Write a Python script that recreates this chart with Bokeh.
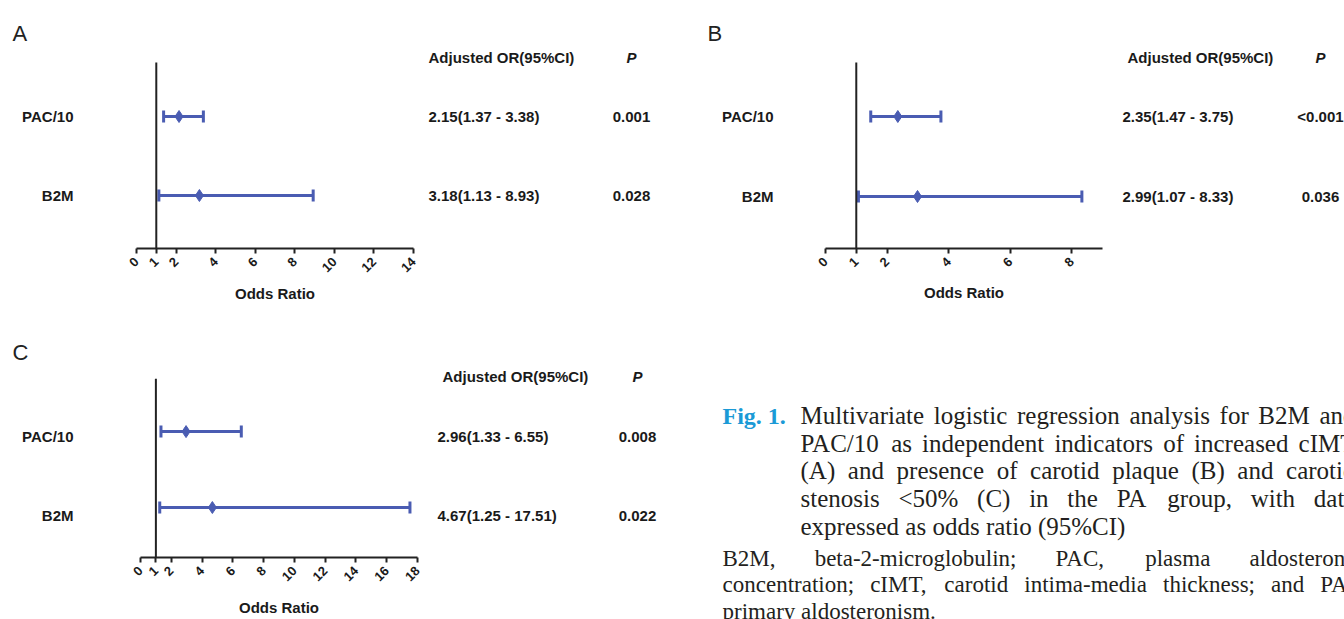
import math
from bokeh.plotting import figure
from bokeh.models import Range1d, FixedTicker, Whisker, TeeHead, ColumnDataSource
from bokeh.core.properties import value
from bokeh.layouts import column, row
from bokeh.embed import file_html
from bokeh.resources import INLINE

# ---------------- data ----------------
variables = ["PAC/10", "B2M"]
row_values = [2, 1]

A_or = [2.15, 3.18]
A_lo = [1.37, 1.13]
A_hi = [3.38, 8.93]
A_p = ["0.001", "0.028"]
A_ticks = [0, 1, 2, 4, 6, 8, 10, 12, 14]
A_xmax = 14

B_or = [2.35, 2.99]
B_lo = [1.47, 1.07]
B_hi = [3.75, 8.33]
B_p = ["<0.001", "0.036"]
B_ticks = [0, 1, 2, 4, 6, 8]
B_xmax = 9

C_or = [2.96, 4.67]
C_lo = [1.33, 1.25]
C_hi = [6.55, 17.51]
C_p = ["0.008", "0.022"]
C_ticks = [0, 1, 2, 4, 6, 8, 10, 12, 14, 16, 18]
C_xmax = 18

header_or = "Adjusted OR(95%CI)"
header_p = "P"
axis_title = "Odds Ratio"

caption_tag = "Fig. 1."
caption_lines = [
    "Multivariate logistic regression analysis for B2M and",
    "PAC/10 as independent indicators of increased cIMT",
    "(A) and presence of carotid plaque (B) and carotid",
    "stenosis <50% (C) in the PA group, with data",
    "expressed as odds ratio (95%CI)",
]
footnote_lines = [
    "B2M, beta-2-microglobulin; PAC, plasma aldosterone",
    "concentration; cIMT, carotid intima-media thickness; and PA,",
    "primary aldosteronism.",
]

# ---------------- style ----------------
BLUE = "#4a5cb2"
AXIS = "#222222"
TXT = "#1a1a1a"
SANS = "Liberation Sans"
SERIF = "Liberation Serif"

# approximate Times metrics (per 1000 em) used to justify caption lines
_TW = {" ": 250, ",": 250, ".": 250, ";": 278, ":": 278, "-": 333, "(": 333, ")": 333,
       "/": 278, "%": 833, "<": 564}
for _c, _w in zip("ABCDEFGHIJKLMNOPQRSTUVWXYZ",
                  [722, 667, 667, 722, 611, 556, 722, 722, 333, 389, 722, 611, 889,
                   722, 722, 556, 722, 667, 556, 611, 722, 722, 944, 722, 722, 611]):
    _TW[_c] = _w
for _c, _w in zip("abcdefghijklmnopqrstuvwxyz",
                  [444, 500, 444, 500, 444, 333, 500, 500, 278, 278, 500, 278, 778,
                   500, 500, 500, 500, 333, 389, 278, 500, 500, 722, 500, 500, 444]):
    _TW[_c] = _w
for _c in "0123456789":
    _TW[_c] = 500


def text_w(s, size):
    return sum(_TW.get(ch, 500) for ch in s) * size / 1000.0


def justify(line, size, left, right):
    words = line.split(" ")
    nat = sum(text_w(w, size) for w in words)
    gap = (right - left - nat) / max(len(words) - 1, 1)
    out, x = [], left
    for w in words:
        out.append((w, x))
        x += text_w(w, size) + gap
    return out


# layout geometry (pixels within each panel)
GEO = {
    "A": dict(W=700, H=310, l=136, r=413, t=62, b=248, r2=116, r1=195, lab=73,
              hdr_x=428, val_x=428, p_x=631, hdr_y=57, let=(12, 33), als=6),
    "B": dict(W=644, H=310, l=125, r=402, t=62, b=248, r2=116, r1=196, lab=73,
              hdr_x=427, val_x=422, p_x=620, hdr_y=57, let=(7, 33), als=10),
    "C": dict(W=700, H=309, l=140, r=417, t=71, b=257, r2=126, r1=205, lab=73,
              hdr_x=442, val_x=437, p_x=637, hdr_y=66, let=(12, 42), als=11),
}
PADL, PADR = 16, 12


def blank(width, height, xr, yr):
    f = figure(width=width, height=height, x_range=xr, y_range=yr,
               output_backend="svg", toolbar_location=None, x_axis_location=None,
               y_axis_location=None, min_border=0, outline_line_color=None,
               background_fill_color="white", border_fill_color="white",
               frame_align=False)
    f.grid.visible = False
    return f


def make_panel(letter, or_v, lo_v, hi_v, p_v, ticks, xmax):
    g = GEO[letter]
    W, H, l, r, t, b = g["W"], g["H"], g["l"], g["r"], g["t"], g["b"]
    r2, r1 = g["r2"], g["r1"]
    unit = r1 - r2

    def Y(py):
        return 2 + (r2 - py) / unit

    # --- left: panel letter and variable names
    lw = l - PADL
    left = blank(lw, H, Range1d(0, lw), Range1d(Y(H), Y(0)))
    # --- middle: forest plot
    p = figure(width=(r - l) + PADL + PADR, height=H, x_range=Range1d(0, xmax),
               y_range=Range1d(Y(b), Y(0)), output_backend="svg", toolbar_location=None,
               y_axis_location=None, min_border_left=PADL, min_border_right=PADR,
               min_border_top=0, min_border_bottom=H - b, outline_line_color=None,
               background_fill_color="white", border_fill_color="white",
               frame_align=False)
    p.grid.visible = False
    # --- right: table
    rx0 = r + PADR
    right = blank(W - rx0, H, Range1d(rx0, W), Range1d(Y(H), Y(0)))

    # reference line at OR = 1
    p.segment(x0=[1], y0=[Y(b)], x1=[1], y1=[Y(t)], line_color=AXIS, line_width=2)

    src = ColumnDataSource(dict(y=row_values, orv=or_v, lo=lo_v, hi=hi_v))
    wh = Whisker(source=src, base="y", lower="lo", upper="hi", dimension="width",
                 line_color=BLUE, line_width=3,
                 lower_head=TeeHead(size=12, line_color=BLUE, line_width=3),
                 upper_head=TeeHead(size=12, line_color=BLUE, line_width=3))
    p.add_layout(wh)
    p.scatter("orv", "y", source=src, marker="diamond", size=12, color=BLUE)

    xa = p.xaxis[0]
    xa.ticker = FixedTicker(ticks=ticks)
    xa.axis_line_color = AXIS
    xa.axis_line_width = 2
    xa.major_tick_line_color = AXIS
    xa.major_tick_line_width = 2
    xa.major_tick_out = 5
    xa.major_tick_in = 0
    xa.minor_tick_line_color = None
    xa.major_label_orientation = math.pi / 4
    xa.major_label_text_font = SANS
    xa.major_label_text_font_style = "bold"
    xa.major_label_text_font_size = "13px"
    xa.major_label_text_color = TXT
    xa.major_label_standoff = 6
    xa.axis_label = axis_title
    xa.axis_label_text_font = SANS
    xa.axis_label_text_font_style = "bold"
    xa.axis_label_text_font_size = "15px"
    xa.axis_label_text_color = TXT
    xa.axis_label_standoff = g["als"]

    def txt(f, xs, ys, texts, size="15px", style="bold", align="left",
            baseline="middle", color=TXT):
        f.text(x=xs, y=ys, text=texts, text_font=value(SANS), text_font_size=size,
               text_font_style=style, text_align=align, text_baseline=baseline,
               text_color=color)

    txt(left, [g["let"][0]], [Y(g["let"][1])], [letter], size="22px", style="normal",
        baseline="alphabetic", color="#222222")
    txt(left, [g["lab"]] * len(variables), row_values, variables, align="right")

    txt(right, [g["hdr_x"]], [Y(g["hdr_y"])], [header_or])
    txt(right, [g["p_x"]], [Y(g["hdr_y"])], [header_p], style="bold italic",
        align="center")
    or_txt = [f"{o:.2f}({lo:.2f} - {hi:.2f})" for o, lo, hi in zip(or_v, lo_v, hi_v)]
    txt(right, [g["val_x"]] * len(or_txt), row_values, or_txt)
    txt(right, [g["p_x"]] * len(p_v), row_values, p_v, align="center")
    return row(left, p, right)


panelA = make_panel("A", A_or, A_lo, A_hi, A_p, A_ticks, A_xmax)
panelB = make_panel("B", B_or, B_lo, B_hi, B_p, B_ticks, B_xmax)
panelC = make_panel("C", C_or, C_lo, C_hi, C_p, C_ticks, C_xmax)

# ---------------- caption panel (page pixel coordinates) ----------------
pD = blank(644, 309, Range1d(700, 1344), Range1d(619, 310))

CAP_SIZE = 25
FOOT_SIZE = 23
CAP_COLOR = "#231f20"


def dtext(xs, ys, texts, size, style="normal", color=CAP_COLOR):
    pD.text(x=xs, y=ys, text=texts, text_font=value(SERIF), text_font_size=f"{size}px",
            text_font_style=style, text_align="left", text_baseline="alphabetic",
            text_color=color)


dtext([722], [415], [caption_tag], 24, style="bold", color="#1b9ad6")
cap_base = [415, 443, 470, 498, 526]
for i, (line, yb) in enumerate(zip(caption_lines, cap_base)):
    if i < len(caption_lines) - 1:
        parts = justify(line, CAP_SIZE, 800, 1355)
        dtext([x for _, x in parts], [yb] * len(parts), [w for w, _ in parts], CAP_SIZE)
    else:
        dtext([800], [yb], [line], CAP_SIZE)
foot_base = [558, 584, 611]
for i, (line, yb) in enumerate(zip(footnote_lines, foot_base)):
    if i < len(footnote_lines) - 1:
        parts = justify(line, FOOT_SIZE, 722, 1355)
        dtext([x for _, x in parts], [yb] * len(parts), [w for w, _ in parts], FOOT_SIZE)
    else:
        dtext([722], [yb], [line], FOOT_SIZE)

layout = column(row(panelA, panelB), row(panelC, pD))
open("out.html", "w").write(file_html(layout, INLINE))
